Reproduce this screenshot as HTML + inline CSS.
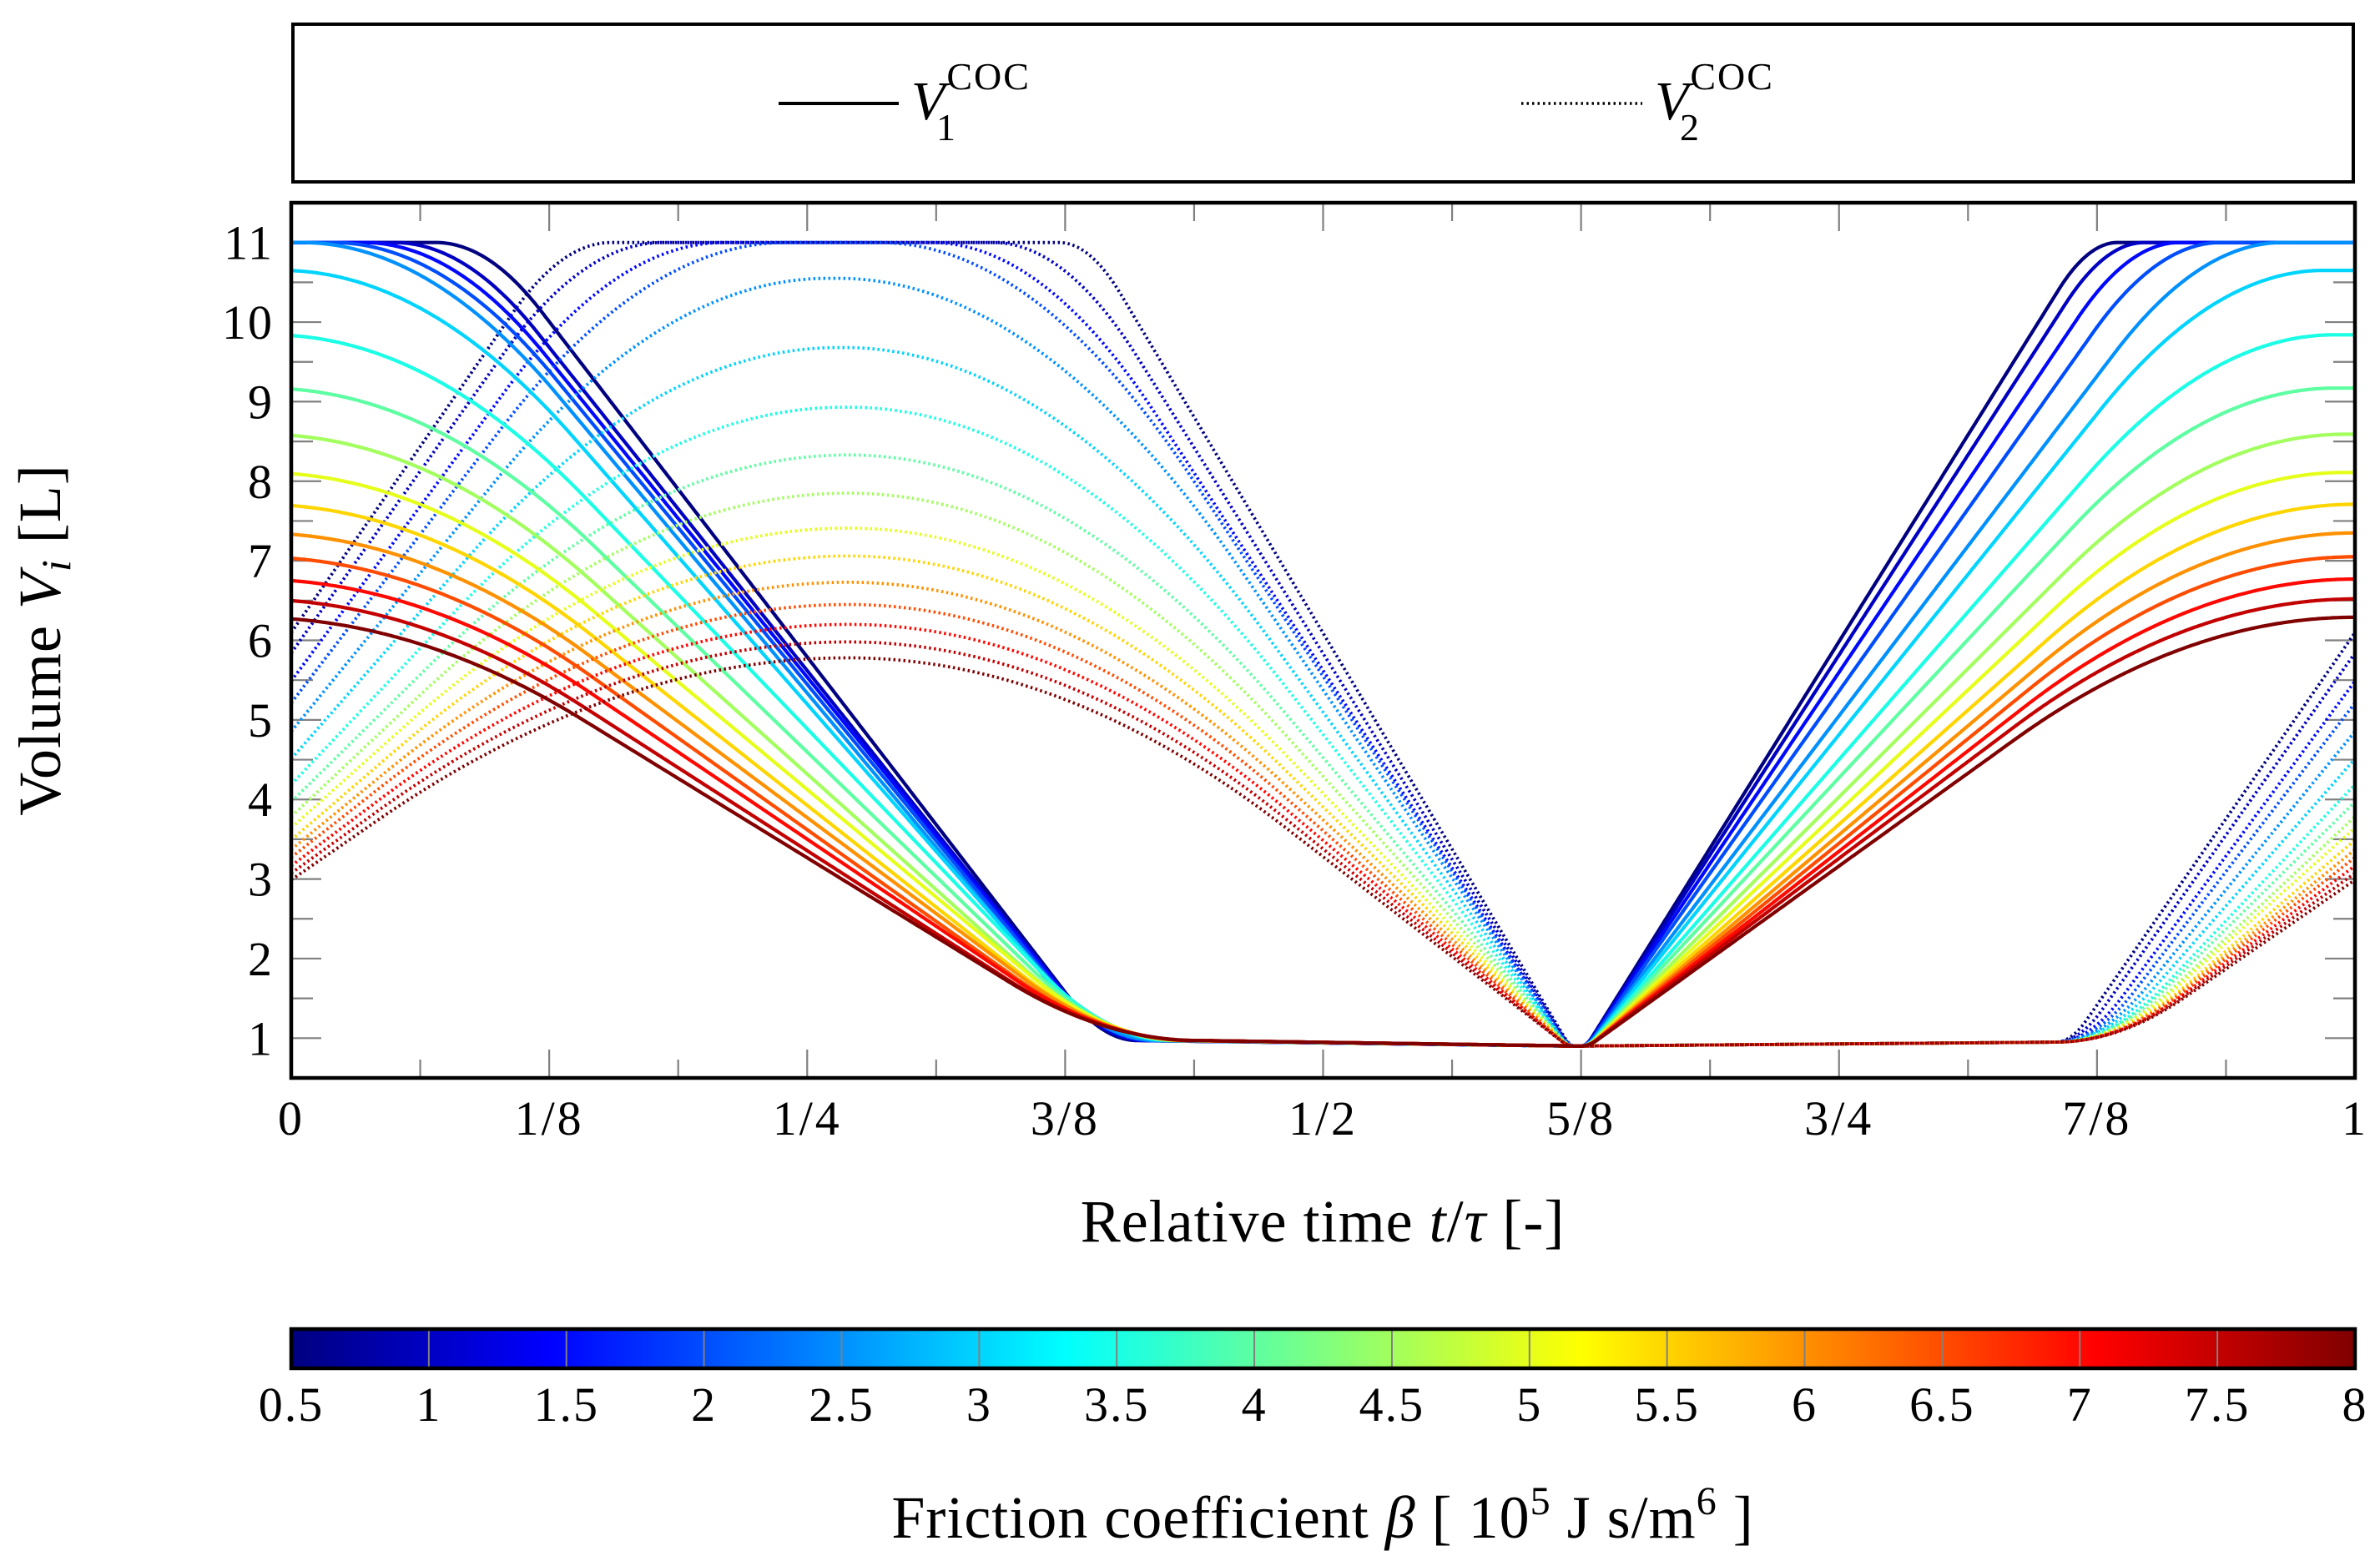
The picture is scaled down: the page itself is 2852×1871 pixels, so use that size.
<!DOCTYPE html>
<html><head><meta charset="utf-8"><title>Volume vs relative time</title>
<style>
html,body{margin:0;padding:0;background:#fff;}
svg{display:block;}
text{font-family:"Liberation Serif","DejaVu Serif",serif;fill:#000;}
</style></head>
<body>
<svg id="chart" width="2852" height="1871" viewBox="0 0 2852 1871" xmlns="http://www.w3.org/2000/svg">
  <defs>
    <clipPath id="plotClip"><rect x="349" y="243" width="2473" height="1049"/></clipPath>
    <linearGradient id="jetGrad" x1="0" y1="0" x2="1" y2="0">
      <stop offset="0" stop-color="#000080"/>
      <stop offset="0.125" stop-color="#0000ff"/>
      <stop offset="0.375" stop-color="#00ffff"/>
      <stop offset="0.625" stop-color="#ffff00"/>
      <stop offset="0.875" stop-color="#ff0000"/>
      <stop offset="1" stop-color="#800000"/>
    </linearGradient>
  </defs>

  <!-- legend -->
  <g>
    <rect x="351" y="29" width="2469" height="189" fill="none" stroke="#000" stroke-width="4"/>
    <g>
      <line x1="933" y1="124" x2="1077" y2="124" stroke="#000" stroke-width="4"/>
      <text x="1092" y="143" font-size="66"><tspan font-style="italic">V</tspan><tspan font-size="46" dy="-36" dx="2" letter-spacing="2">COC</tspan></text>
      <text x="1122" y="168" font-size="46">1</text>
    </g>
    <g>
      <line x1="1823" y1="124" x2="1968" y2="124" stroke="#000" stroke-width="3.5" stroke-dasharray="2.5 4"/>
      <text x="1983" y="143" font-size="66"><tspan font-style="italic">V</tspan><tspan font-size="46" dy="-36" dx="2" letter-spacing="2">COC</tspan></text>
      <text x="2013" y="168" font-size="46">2</text>
    </g>
  </g>

  <g id="ticks"></g>
  <g id="series" clip-path="url(#plotClip)"></g>
  <rect x="349" y="243" width="2473" height="1049" fill="none" stroke="#000" stroke-width="4.5"/>
  <g id="xlabels"></g>
  <g id="ylabels"></g>

  <text x="1585" y="1488" font-size="72" letter-spacing="1" text-anchor="middle">Relative time <tspan font-style="italic">t</tspan>/<tspan font-style="italic">τ</tspan> [-]</text>
  <text transform="translate(72,767) rotate(-90)" font-size="72" letter-spacing="1" text-anchor="middle">Volume <tspan font-style="italic">V</tspan><tspan font-style="italic" font-size="50" dy="12">i</tspan><tspan dy="-12"> [L]</tspan></text>

  <!-- colorbar -->
  <g>
    <rect x="349" y="1593" width="2473" height="47" fill="url(#jetGrad)"/>
    <g id="cbticks"></g>
    <rect x="349" y="1593" width="2473" height="47" fill="none" stroke="#000" stroke-width="4.5"/>
    <g id="cblabels"></g>
  </g>
  <text x="1585" y="1843" font-size="72" letter-spacing="1" text-anchor="middle">Friction coefficient <tspan font-style="italic">β</tspan> [ 10<tspan font-size="48" dy="-28">5</tspan><tspan dy="28"> J s/m</tspan><tspan font-size="48" dy="-28">6</tspan><tspan dy="28"> ]</tspan></text>
</svg>

<script>
// ---- data ----
const betas = [0.5,1,1.5,2,2.5,3,3.5,4,4.5,5,5.5,6,6.5,7,7.5,8];
const v1Peak = [11,11,11,11,11,10.65,9.84,9.17,8.59,8.11,7.71,7.35,7.05,6.77,6.52,6.29];
const v1RiseEnd = [0.885,0.898,0.915,0.935,0.965,0.985,0.99,0.99,0.995,0.995,1,1,1,1,1,1];
const v1RiseDecel = [0.11,0.14,0.17,0.2,0.24,0.3,0.33,0.35,0.37,0.38,0.4,0.41,0.42,0.43,0.44,0.44];
const v1FallStart = [0.07,0.05,0.035,0.02,0.005,-0.005,-0.01,-0.012,-0.014,-0.015,-0.016,-0.017,-0.018,-0.019,-0.02,-0.02];
const v1FallEnd = [0.41,0.413,0.416,0.418,0.42,0.425,0.428,0.43,0.432,0.434,0.435,0.436,0.437,0.438,0.439,0.44];
const v1FallAccel = [0.15,0.19,0.23,0.27,0.3,0.33,0.35,0.36,0.36,0.36,0.36,0.36,0.36,0.36,0.35,0.35];
const v1FallDecel = [0.1,0.11,0.12,0.13,0.14,0.15,0.15,0.16,0.17,0.17,0.18,0.18,0.19,0.19,0.2,0.2];
const v2Peak = [11,11,11,11,10.55,9.68,8.93,8.33,7.85,7.41,7.06,6.73,6.45,6.2,5.98,5.78];
const v2RiseEnd = [1.155,1.18,1.21,1.24,1.26,1.265,1.268,1.27,1.27,1.27,1.27,1.27,1.27,1.27,1.27,1.27];
const v2FallStart = [0.372,0.34,0.31,0.285,0.265,0.268,0.27,0.27,0.27,0.27,0.27,0.27,0.27,0.27,0.27,0.27];
const v2RiseAccel = [0.05,0.07,0.09,0.1,0.11,0.12,0.13,0.13,0.14,0.14,0.15,0.15,0.15,0.15,0.15,0.15];
const v2RiseDecel = [0.16,0.24,0.3,0.36,0.4,0.44,0.46,0.48,0.5,0.52,0.53,0.54,0.55,0.55,0.55,0.55];
const v2FallAccel = [0.12,0.25,0.35,0.45,0.55,0.58,0.6,0.6,0.6,0.6,0.6,0.6,0.6,0.6,0.6,0.6];
const xTickLabels = ["0","1/8","1/4","3/8","1/2","5/8","3/4","7/8","1"];
const yTickValues = [1,2,3,4,5,6,7,8,9,10,11];
const cbTickValues = [0.5,1,1.5,2,2.5,3,3.5,4,4.5,5,5.5,6,6.5,7,7.5,8];

// ---- axes ----
const PX0=349, PX1=2822, PY0=243, PY1=1292;
const X_MIN=0, X_MAX=1, Y_MIN=0.5, Y_MAX=11.5, B_MIN=0.5, B_MAX=8;
const xs = t => PX0 + (t-X_MIN)/(X_MAX-X_MIN)*(PX1-PX0);
const ys = v => PY1 - (v-Y_MIN)/(Y_MAX-Y_MIN)*(PY1-PY0);
const bs = b => PX0 + (b-B_MIN)/(B_MAX-B_MIN)*(PX1-PX0);
const NS="http://www.w3.org/2000/svg";
function mk(tag, attrs, parent){const e=document.createElementNS(NS,tag);for(const k in attrs)e.setAttribute(k,attrs[k]);parent.appendChild(e);return e;}

function jet(x){
  const c=v=>Math.max(0,Math.min(1,v));
  const r=c(1.5-Math.abs(4*x-3)), g=c(1.5-Math.abs(4*x-2)), b=c(1.5-Math.abs(4*x-1));
  return `rgb(${Math.round(r*255)},${Math.round(g*255)},${Math.round(b*255)})`;
}
function ramp(u,a,d){
  u=Math.max(0,Math.min(1,u));
  const vm=1/(1-a/2-d/2);
  if(u<a) return vm*u*u/(2*a);
  if(u>1-d) return 1-vm*(1-u)*(1-u)/(2*d);
  return vm*(u-a/2);
}
function V1(i,t){
  const P=v1Peak[i], fs=v1FallStart[i], fe=v1FallEnd[i];
  if(t<=fe){ if(t<fs) return P; return P+(0.97-P)*ramp((t-fs)/(fe-fs),v1FallAccel[i],v1FallDecel[i]); }
  if(t<=0.625) return 0.97+(0.9-0.97)*(t-fe)/(0.625-fe);
  const re=v1RiseEnd[i];
  if(t>=re) return P;
  return 0.9+(P-0.9)*ramp((t-0.625)/(re-0.625),0.02,v1RiseDecel[i]);
}
function V2(i,t){
  const P=v2Peak[i], re=v2RiseEnd[i], fs=Math.max(v2FallStart[i], re-1);
  const rise=tt=>0.95+(P-0.95)*ramp((tt-0.855)/(re-0.855),v2RiseAccel[i],v2RiseDecel[i]);
  if(t<0.5){ if(t+1<re) return rise(t+1); if(t<=fs) return P; }
  if(t<=0.622) return P+(0.9-P)*ramp((t-fs)/(0.622-fs),v2FallAccel[i],0.02);
  if(t<=0.855) return 0.9+0.05*(t-0.622)/0.233;
  return rise(t);
}

// ticks
const tg=document.getElementById('ticks');
for(let k=1;k<16;k++){
  const x=xs(k/16), L=(k%2===0)?34:22;
  const t1=mk('line',{x1:x,y1:PY1,x2:x,y2:PY1-L,stroke:'#808080','stroke-width':2.2},tg);
  
  
  const t2=mk('line',{x1:x,y1:PY0,x2:x,y2:PY0+L,stroke:'#808080','stroke-width':2.2},tg);
  
  
}
for(let v=1;v<=11;v+=0.5){
  const y=ys(v), L=(v%1===0)?36:26;
  const t1=mk('line',{x1:PX0,y1:y,x2:PX0+L,y2:y,stroke:'#808080','stroke-width':2.2},tg);
  
  
  const t2=mk('line',{x1:PX1,y1:y,x2:PX1-L,y2:y,stroke:'#808080','stroke-width':2.2},tg);
  
  
}
const xl=document.getElementById('xlabels');
xTickLabels.forEach((s,k)=>{
  const e=mk('text',{x:xs(k/8),y:1360,'font-size':58,'letter-spacing':3,'text-anchor':'middle'},xl);
  e.textContent=s;
  
  
});
const yl=document.getElementById('ylabels');
yTickValues.forEach(v=>{
  const e=mk('text',{x:328,y:ys(v)+20,'font-size':58,'letter-spacing':2,'text-anchor':'end'},yl);
  e.textContent=String(v);
  
  
});

// series
const sg=document.getElementById('series');
const N=900;
for(let i=0;i<betas.length;i++){
  const col=jet((betas[i]-B_MIN)/(B_MAX-B_MIN));
  let d1='', d2='';
  for(let k=0;k<=N;k++){
    const t=k/N;
    d1+=(k?'L':'M')+xs(t).toFixed(1)+' '+ys(V1(i,t)).toFixed(1);
    d2+=(k?'L':'M')+xs(t).toFixed(1)+' '+ys(V2(i,t)).toFixed(1);
  }
  const p2=mk('path',{d:d2,fill:'none',stroke:col,'stroke-width':3.8,'stroke-dasharray':'2.5 3.5'},sg);
  
  
  const p1=mk('path',{d:d1,fill:'none',stroke:col,'stroke-width':4.2,'stroke-linejoin':'round'},sg);
  
  
}

// colorbar ticks & labels
const cbt=document.getElementById('cbticks'), cbl=document.getElementById('cblabels');
cbTickValues.forEach(b=>{
  const x=bs(b);
  if(b>B_MIN && b<B_MAX){
    const l=mk('line',{x1:x,y1:1593,x2:x,y2:1640,stroke:'#808080','stroke-width':2},cbt);
    
    
  }
  const e=mk('text',{x:x,y:1703,'font-size':58,'letter-spacing':2,'text-anchor':'middle'},cbl);
  e.textContent=String(b);
  
  
});
</script>
</body></html>
